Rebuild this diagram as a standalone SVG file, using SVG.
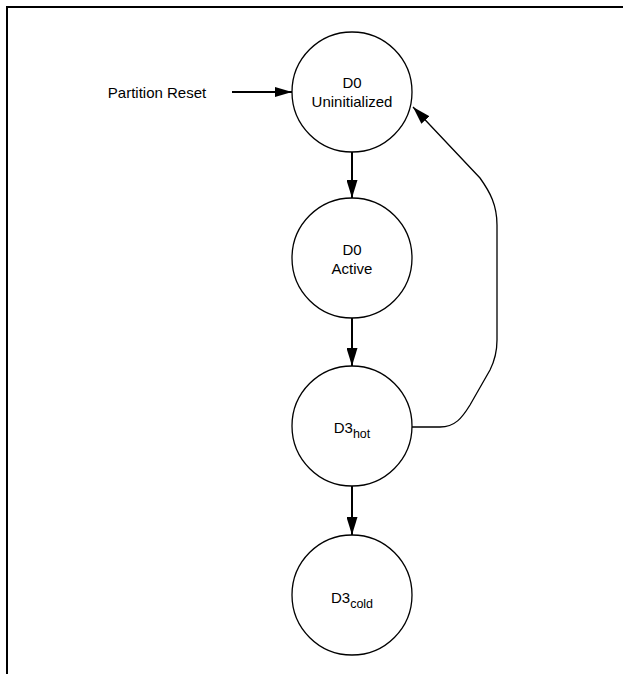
<svg xmlns="http://www.w3.org/2000/svg" width="623" height="674" viewBox="0 0 623 674">
  <defs>
    <marker id="arrow" markerUnits="userSpaceOnUse" markerWidth="18" markerHeight="11" refX="18" refY="5.5" orient="auto">
      <path d="M0,0 L18,5.5 L0,11 z" fill="#000"/>
    </marker>
    <marker id="arrowS" markerUnits="userSpaceOnUse" markerWidth="17" markerHeight="10" refX="17" refY="5" orient="auto">
      <path d="M0,0 L17,5 L0,10 z" fill="#000"/>
    </marker>
  </defs>
  <style>
    .state { fill: #fff; stroke: #000; stroke-width: 1.3; }
    .lbl { font-family: "Liberation Sans", Arial, sans-serif; font-size: 15px; fill: #000; text-anchor: middle; }
    .sub { font-size: 12.5px; }
    .conn { fill: none; stroke: #000; stroke-width: 2; }
    .thin { fill: none; stroke: #000; stroke-width: 1.3; }
    .frame { stroke: #000; stroke-width: 2; fill: none; }
  </style>
  <rect width="623" height="674" fill="#fff"/>
  <g id="frame">
    <line class="frame" x1="6" y1="7" x2="623" y2="7"/>
    <line class="frame" x1="7" y1="6" x2="7" y2="674"/>
  </g>
  <g id="connectors">
    <line class="conn" x1="232" y1="92" x2="292" y2="92" marker-end="url(#arrowS)"/>
    <line class="conn" x1="352" y1="152" x2="352" y2="198" marker-end="url(#arrow)"/>
    <line class="conn" x1="352" y1="318" x2="352" y2="366" marker-end="url(#arrow)"/>
    <line class="conn" x1="352" y1="486" x2="352" y2="535" marker-end="url(#arrow)"/>
    <path class="thin" d="M412,427 L440,427 C455,427 462,418 470,405 L490,370 C495,360 497,350 497,340 L497,225 C497,205 490,192 480,178 L413,107" marker-end="url(#arrow)"/>
  </g>
  <g id="partition-reset">
    <text class="lbl" x="157" y="98">Partition Reset</text>
  </g>
  <g id="d0-uninitialized">
    <circle class="state" cx="352" cy="92" r="60"/>
    <text class="lbl" x="352" y="88">D0</text>
    <text class="lbl" x="352" y="107">Uninitialized</text>
  </g>
  <g id="d0-active">
    <circle class="state" cx="352" cy="258" r="60"/>
    <text class="lbl" x="352" y="255">D0</text>
    <text class="lbl" x="352" y="274">Active</text>
  </g>
  <g id="d3-hot">
    <circle class="state" cx="352" cy="426" r="60"/>
    <text class="lbl" x="352" y="433">D3<tspan class="sub" dy="5">hot</tspan></text>
  </g>
  <g id="d3-cold">
    <circle class="state" cx="352" cy="595" r="60"/>
    <text class="lbl" x="352" y="603">D3<tspan class="sub" dy="5">cold</tspan></text>
  </g>
</svg>
